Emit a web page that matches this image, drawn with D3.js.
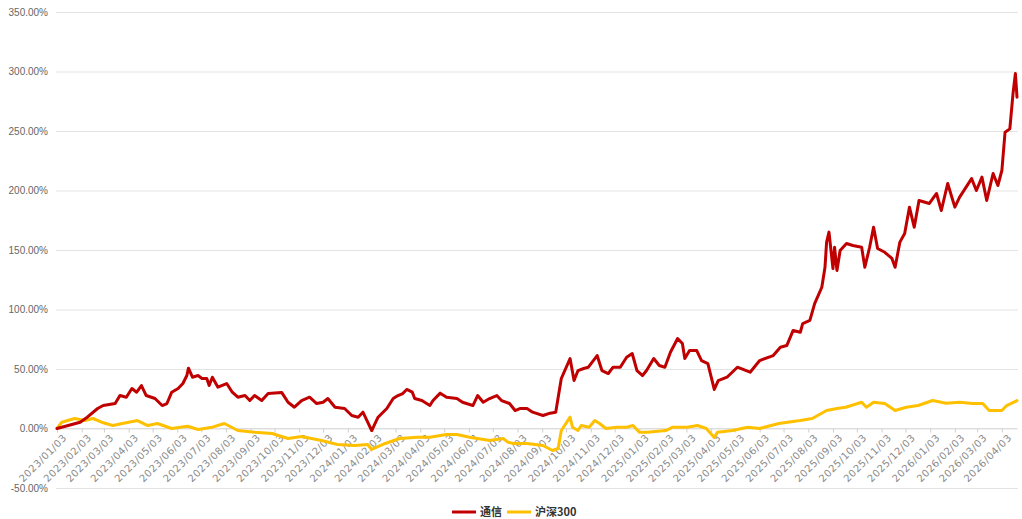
<!DOCTYPE html>
<html><head><meta charset="utf-8">
<script src="https://cdn.jsdelivr.net/npm/d3@7"></script>
<style>
html,body{margin:0;padding:0;background:#fff;}
svg{display:block;}
</style></head>
<body>
<svg id="chart" width="1022" height="519"></svg>
<script>
const seriesNames = ["通信", "沪深300"];
const seriesColors = ["#c00000", "#ffc000"];

const tongxinDates = ["2023-01-03","2023-01-09","2023-02-01","2023-02-10","2023-02-23","2023-03-02","2023-03-17","2023-03-23","2023-03-31","2023-04-07","2023-04-13","2023-04-19","2023-04-25","2023-05-06","2023-05-15","2023-05-21","2023-05-27","2023-06-04","2023-06-10","2023-06-15","2023-06-17","2023-06-22","2023-06-29","2023-07-04","2023-07-10","2023-07-13","2023-07-17","2023-07-24","2023-08-04","2023-08-11","2023-08-18","2023-08-27","2023-09-02","2023-09-08","2023-09-17","2023-09-25","2023-10-12","2023-10-20","2023-10-28","2023-11-06","2023-11-16","2023-11-25","2023-12-03","2023-12-09","2023-12-18","2023-12-30","2024-01-08","2024-01-16","2024-01-22","2024-01-28","2024-02-02","2024-02-10","2024-02-21","2024-02-29","2024-03-06","2024-03-12","2024-03-17","2024-03-24","2024-03-27","2024-04-05","2024-04-15","2024-04-19","2024-04-28","2024-05-06","2024-05-19","2024-05-26","2024-06-08","2024-06-14","2024-06-21","2024-06-29","2024-07-08","2024-07-14","2024-07-24","2024-07-31","2024-08-06","2024-08-15","2024-08-22","2024-09-04","2024-09-13","2024-09-20","2024-09-27","2024-10-08","2024-10-13","2024-10-18","2024-10-25","2024-10-31","2024-11-11","2024-11-17","2024-11-25","2024-12-01","2024-12-10","2024-12-18","2024-12-25","2024-12-31","2025-01-07","2025-01-12","2025-01-21","2025-01-28","2025-02-04","2025-02-11","2025-02-20","2025-02-26","2025-03-01","2025-03-07","2025-03-16","2025-03-22","2025-03-30","2025-04-07","2025-04-12","2025-04-23","2025-05-06","2025-05-22","2025-06-03","2025-06-20","2025-06-29","2025-07-07","2025-07-15","2025-07-24","2025-07-27","2025-08-05","2025-08-11","2025-08-20","2025-08-24","2025-08-26","2025-08-29","2025-09-03","2025-09-05","2025-09-08","2025-09-12","2025-09-20","2025-09-28","2025-10-09","2025-10-13","2025-10-19","2025-10-24","2025-10-29","2025-11-07","2025-11-16","2025-11-20","2025-11-26","2025-12-02","2025-12-08","2025-12-14","2025-12-20","2026-01-02","2026-01-11","2026-01-17","2026-01-25","2026-02-03","2026-02-09","2026-02-24","2026-03-02","2026-03-09","2026-03-15","2026-03-23","2026-03-29","2026-04-03","2026-04-07","2026-04-13","2026-04-17","2026-04-20","2026-04-22"];
const tongxinValues = [0,1.1,5.3,9.5,16.8,19.3,21.0,27.7,26.3,33.6,30.5,36.1,27.7,25.2,19.3,21.0,30.5,33.6,37.8,44.5,50.7,43.1,44.5,42.0,42.0,36.1,43.1,34.7,37.8,30.5,26.3,27.7,23.5,27.7,23.5,29.4,30.3,22.1,17.9,23.5,26.3,21.0,22.1,25.2,17.9,16.8,10.9,9.5,13.7,5.3,-1.7,9.5,16.8,25.2,27.7,29.4,32.8,30.5,25.2,23.5,19.3,23.5,29.7,26.3,25.2,22.1,19.3,27.7,22.1,25.2,27.7,23.5,21.0,15.1,16.8,16.8,13.7,10.9,12.9,13.7,42.0,58.8,40.3,48.7,50.4,51.5,61.3,48.7,46.2,51.5,51.5,59.9,63.0,48.7,44.5,48.7,58.8,52.9,51.5,64.1,75.6,71.4,58.8,65.5,65.5,57.1,54.6,32.8,40.3,43.1,51.5,47.3,57.1,61.3,68.3,69.7,82.4,80.9,88.2,90.8,105.0,118.7,135.5,156.6,165.0,134.4,152.3,132.8,149.6,155.5,153.8,152.3,135.5,152.3,169.2,151.3,148.1,142.9,135.5,156.6,163.9,186.0,169.2,191.6,189.1,197.5,183.2,205.9,186.0,194.4,210.0,200.0,211.2,191.6,214.3,204.2,216.8,249.0,251.8,281.5,298.3,278.4];

const hs300Dates = ["2023-01-03","2023-01-09","2023-01-25","2023-02-07","2023-02-17","2023-02-28","2023-03-14","2023-03-26","2023-04-14","2023-04-27","2023-05-09","2023-05-27","2023-06-16","2023-06-29","2023-07-17","2023-08-01","2023-08-18","2023-09-08","2023-09-30","2023-10-20","2023-11-06","2023-12-01","2023-12-21","2024-01-12","2024-01-28","2024-02-02","2024-02-19","2024-03-08","2024-03-30","2024-04-15","2024-05-06","2024-05-19","2024-06-04","2024-06-29","2024-07-16","2024-07-22","2024-07-29","2024-08-15","2024-09-04","2024-09-16","2024-09-23","2024-09-27","2024-10-08","2024-10-11","2024-10-18","2024-10-22","2024-11-01","2024-11-08","2024-11-14","2024-11-22","2024-12-06","2024-12-18","2024-12-26","2025-01-03","2025-01-13","2025-02-05","2025-02-14","2025-03-04","2025-03-17","2025-03-28","2025-04-07","2025-04-11","2025-04-30","2025-05-19","2025-06-03","2025-06-27","2025-07-24","2025-08-08","2025-08-26","2025-09-08","2025-09-19","2025-10-09","2025-10-15","2025-10-24","2025-11-07","2025-11-20","2025-12-04","2025-12-19","2026-01-06","2026-01-23","2026-02-09","2026-02-25","2026-03-10","2026-03-18","2026-04-03","2026-04-09","2026-04-22"];
const hs300Values = [0,5.3,8.4,6.7,8.4,5.3,2.5,4.2,6.7,2.5,4.2,0,1.9,-0.8,1.1,4.2,-1.7,-3.1,-4.2,-8.4,-6.7,-10.1,-13.4,-14.3,-13.4,-17.6,-12.6,-8.4,-7.3,-7.3,-5.0,-5.0,-7.3,-10.1,-8.4,-11.5,-12.6,-12.6,-14.3,-18.5,-16.8,-1.7,9.5,1.1,-1.7,2.5,1.1,6.7,4.2,0,1.1,1.1,2.5,-3.1,-3.1,-1.7,1.1,1.1,2.5,0,-7.6,-3.1,-1.7,1.1,0,4.2,6.7,8.4,15.1,16.8,17.9,22.1,17.9,22.1,21.0,15.1,17.9,19.3,23.5,21.3,22.1,21.0,21.0,15.1,15.1,19.3,23.5];

const yTicks = [-50, 0, 50, 100, 150, 200, 250, 300, 350];
const xTickLabels = ["2023/01/03","2023/02/03","2023/03/03","2023/04/03","2023/05/03","2023/06/03","2023/07/03","2023/08/03","2023/09/03","2023/10/03","2023/11/03","2023/12/03","2024/01/03","2024/02/03","2024/03/03","2024/04/03","2024/05/03","2024/06/03","2024/07/03","2024/08/03","2024/09/03","2024/10/03","2024/11/03","2024/12/03","2025/01/03","2025/02/03","2025/03/03","2025/04/03","2025/05/03","2025/06/03","2025/07/03","2025/08/03","2025/09/03","2025/10/03","2025/11/03","2025/12/03","2026/01/03","2026/02/03","2026/03/03","2026/04/03"];

(function () {
const parse = d3.timeParse("%Y-%m-%d");
const parseTick = d3.timeParse("%Y/%m/%d");
const series = [
  tongxinDates.map((d, i) => ({date: parse(d), value: tongxinValues[i]})),
  hs300Dates.map((d, i) => ({date: parse(d), value: hs300Values[i]}))
];

const svg = d3.select("#chart");
const mLeft = 57, mRight = 1017, mTop = 12, mBottom = 488;

const x = d3.scaleTime().domain([parse("2023-01-03"), parse("2026-04-22")]).range([mLeft, mRight]);
const y = d3.scaleLinear().domain([-50, 350]).range([mBottom, mTop]);

const yAxis = d3.axisLeft(y).tickValues(yTicks).tickSize(-(mRight - mLeft + 2)).tickPadding(8)
  .tickFormat(d => d.toFixed(2) + "%");
const gy = svg.append("g").attr("transform", `translate(${mLeft - 1},0)`).call(yAxis);
gy.select(".domain").remove();
gy.selectAll(".tick line").attr("stroke", "#e3e3e3").attr("stroke-width", 1);
gy.selectAll(".tick text").attr("fill", "#666").style("font-family", "'Liberation Sans', Arial, sans-serif").style("font-size", "10px");

const xAxis = d3.axisBottom(x).tickValues(xTickLabels.map(parseTick)).tickSize(4)
  .tickFormat(d3.timeFormat("%Y/%m/%d"));
const gx = svg.append("g").attr("transform", `translate(0,${y(0)})`).call(xAxis);
gx.select(".domain").attr("stroke", "#dcdcdc").attr("d", `M${mLeft},0H${mRight}`);
gx.selectAll(".tick line").attr("stroke", "#cfcfcf");
gx.selectAll(".tick text")
  .attr("fill", "#8a8a8a")
  .style("font-family", "'DejaVu Sans', sans-serif")
  .style("font-size", "10px")
  .style("letter-spacing", "0.5px")
  .attr("text-anchor", "end")
  .attr("dy", "0")
  .attr("transform", "translate(5,5) rotate(-45)");

const line = d3.line().x(d => x(d.date)).y(d => y(d.value));
[1, 0].forEach(i => {
  svg.append("path").datum(series[i])
    .attr("fill", "none")
    .attr("stroke", seriesColors[i])
    .attr("stroke-width", 3)
    .attr("stroke-linejoin", "round")
    .attr("stroke-linecap", "round")
    .attr("d", line);
});

const lg = svg.append("g").attr("transform", "translate(452,512)");
const legendX = [0, 55];
seriesNames.forEach((n, i) => {
  const g = lg.append("g").attr("transform", `translate(${legendX[i]},0)`);
  g.append("line").attr("x1", 0).attr("x2", 24).attr("y1", 0).attr("y2", 0)
    .attr("stroke", seriesColors[i]).attr("stroke-width", 3);
  g.append("text").attr("x", 28).attr("y", 4)
    .attr("fill", "#333")
    .style("font-family", "'Noto Sans CJK SC', sans-serif")
    .style("font-size", "11px").style("font-weight", "bold")
    .text(n);
});
})();
</script>
</body></html>
